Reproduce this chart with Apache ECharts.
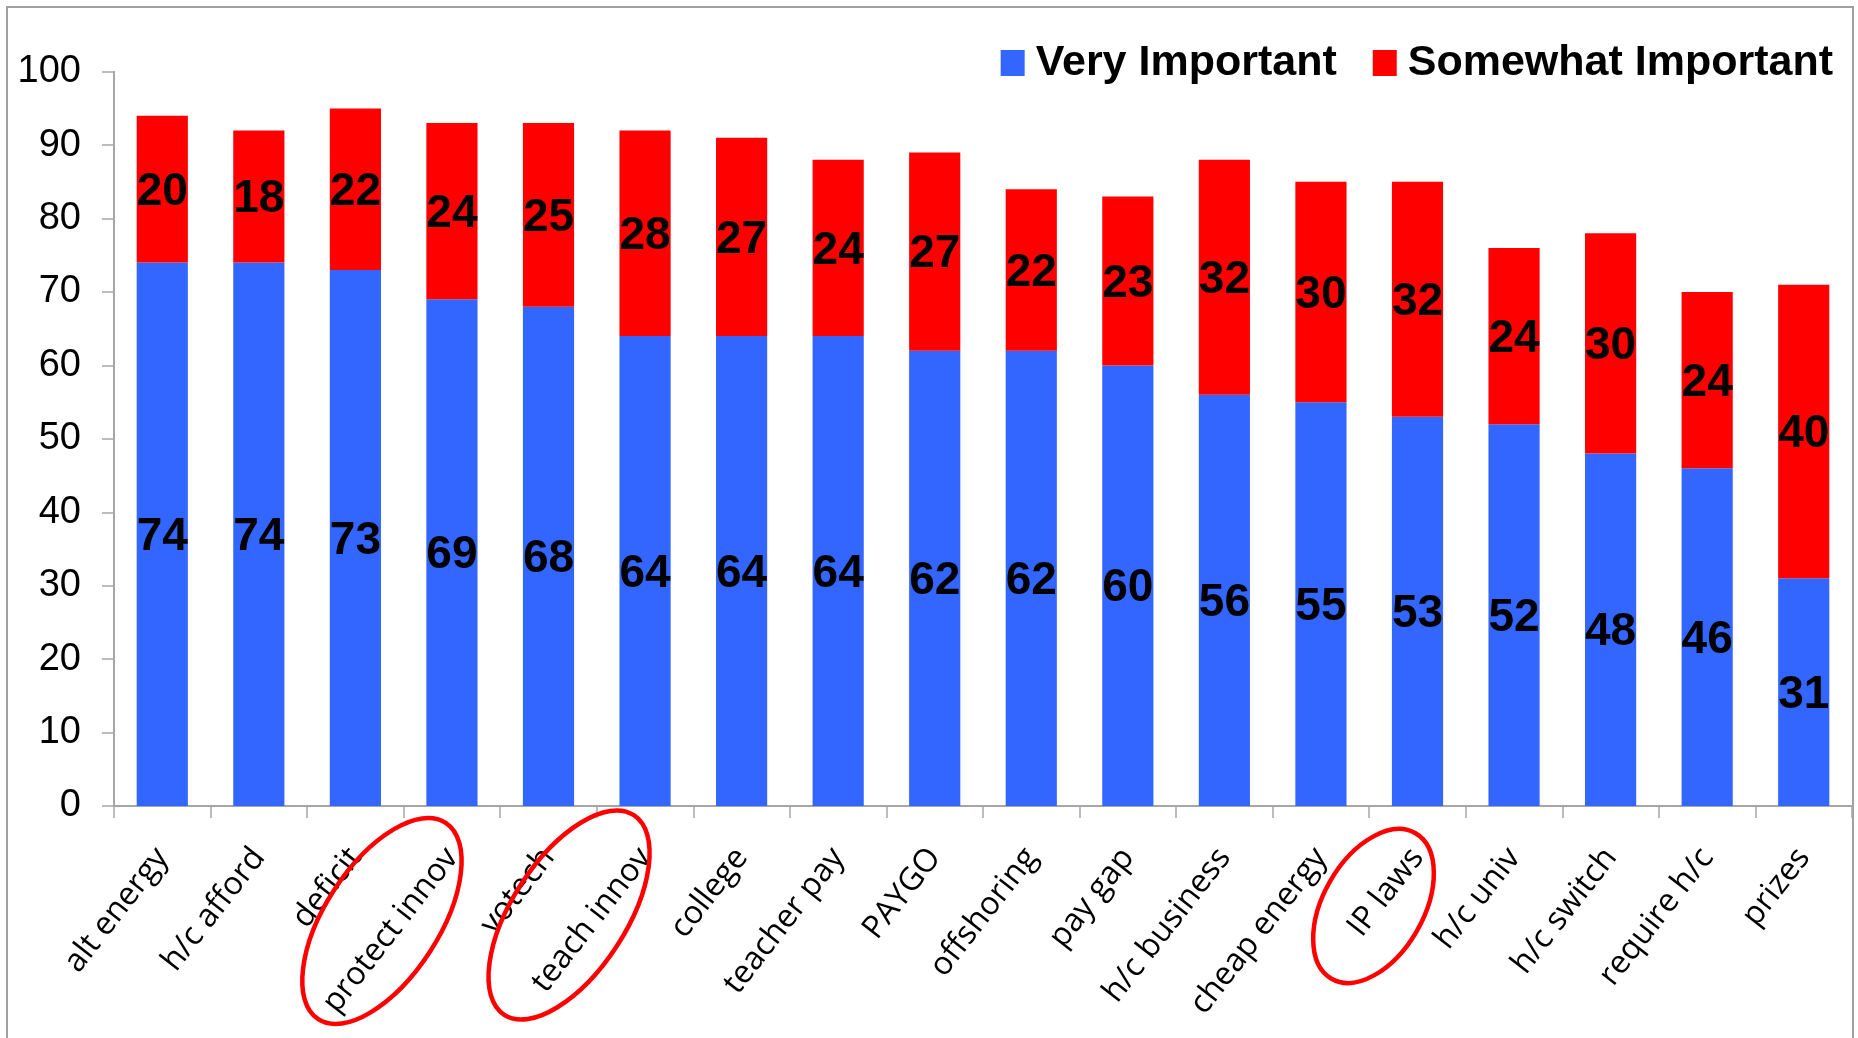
<!DOCTYPE html>
<html>
<head>
<meta charset="utf-8">
<script src="https://cdn.jsdelivr.net/npm/echarts@6/dist/echarts.min.js"></script>
<style>
html,body{margin:0;padding:0;background:#fff;}
#chart{width:1858px;height:1038px;}
</style>
</head>
<body>
<div id="chart"></div>
<script>
const categories = ["alt energy","h/c afford","deficit","protect innov","votech","teach innov","college","teacher pay","PAYGO","offshoring","pay gap","h/c business","cheap energy","IP laws","h/c univ","h/c switch","require h/c","prizes"];
const veryImportant = [74,74,73,69,68,64,64,64,62,62,60,56,55,53,52,48,46,31];
const somewhatImportant = [20,18,22,24,25,28,27,24,27,22,23,32,30,32,24,30,24,40];
const yTicks = [0,10,20,30,40,50,60,70,80,90,100];
const circledCategories = ["protect innov","teach innov","IP laws"];

// annotation ellipse geometry (offset from category centre / axis baseline)
const ellipseStyle = {
  "protect innov": {dx:-70, dy:115, rx:117, ry:57, angle:57},
  "teach innov":   {dx:-76, dy:109, rx:119, ry:57, angle:57},
  "IP laws":       {dx:-44, dy:100, rx:84,  ry:50, angle:60}
};

const chart = echarts.init(document.getElementById('chart'), null, {renderer:'canvas'});
const labelStyle = {show:true, position:'inside', offset:[0,3], color:'#000', fontFamily:'Liberation Sans, Arial, sans-serif', fontWeight:'bold', fontSize:46};

const option = {
  animation:false,
  backgroundColor:'#fff',
  legend:{
    right:20, top:36,
    itemWidth:24, itemHeight:26, itemGap:36,
    icon:'rect',
    textStyle:{fontFamily:'Liberation Sans, Arial, sans-serif', fontWeight:'bold', fontSize:43, color:'#000', lineHeight:44, padding:[0,0,0,6]},
    data:['Very Important','Somewhat Important']
  },
  grid:{left:114, right:6, top:71.7, bottom:232},
  xAxis:{
    type:'category',
    data:categories,
    axisLine:{lineStyle:{color:'#a6a6a6', width:2}},
    axisTick:{show:true, length:12, lineStyle:{color:'#a6a6a6', width:1.5}},
    axisLabel:{rotate:52, margin:46, interval:0, color:'#000', fontFamily:'Open Sans, Noto Sans, sans-serif', fontSize:32}
  },
  yAxis:{
    type:'value', min:0, max:100, interval:10,
    axisLine:{show:true, lineStyle:{color:'#a6a6a6', width:2}},
    axisTick:{show:true, length:12, lineStyle:{color:'#a6a6a6', width:1.5}},
    splitLine:{show:false},
    axisLabel:{margin:33, color:'#000', fontFamily:'Liberation Sans, Arial, sans-serif', fontSize:38,
      formatter:function(v){ return yTicks.indexOf(v) >= 0 ? String(v) : ''; }}
  },
  series:[
    {name:'Very Important', type:'bar', stack:'total', data:veryImportant, barCategoryGap:'47%',
      itemStyle:{color:'#3366FF'}, label:labelStyle},
    {name:'Somewhat Important', type:'bar', stack:'total', data:somewhatImportant, barCategoryGap:'47%',
      itemStyle:{color:'#FF0000'}, label:labelStyle}
  ]
};
chart.setOption(option);

// frame + annotation ellipses placed from the library's own scales
const baseY = chart.convertToPixel({yAxisIndex:0}, 0);
const graphics = [{
  type:'rect', silent:true, z:-1,
  shape:{x:7, y:7, width:1846, height:1100},
  style:{fill:null, stroke:'#a0a0a0', lineWidth:2}
}];
circledCategories.forEach(function(name){
  const cx = chart.convertToPixel({xAxisIndex:0}, name);
  const s = ellipseStyle[name];
  graphics.push({
    type:'ellipse', silent:true, z:100,
    x: cx + s.dx, y: baseY + s.dy,
    rotation: s.angle * Math.PI / 180,
    shape:{cx:0, cy:0, rx:s.rx, ry:s.ry},
    style:{fill:null, stroke:'#FF0000', lineWidth:4.5}
  });
});
chart.setOption({graphic:graphics});
</script>
</body>
</html>
